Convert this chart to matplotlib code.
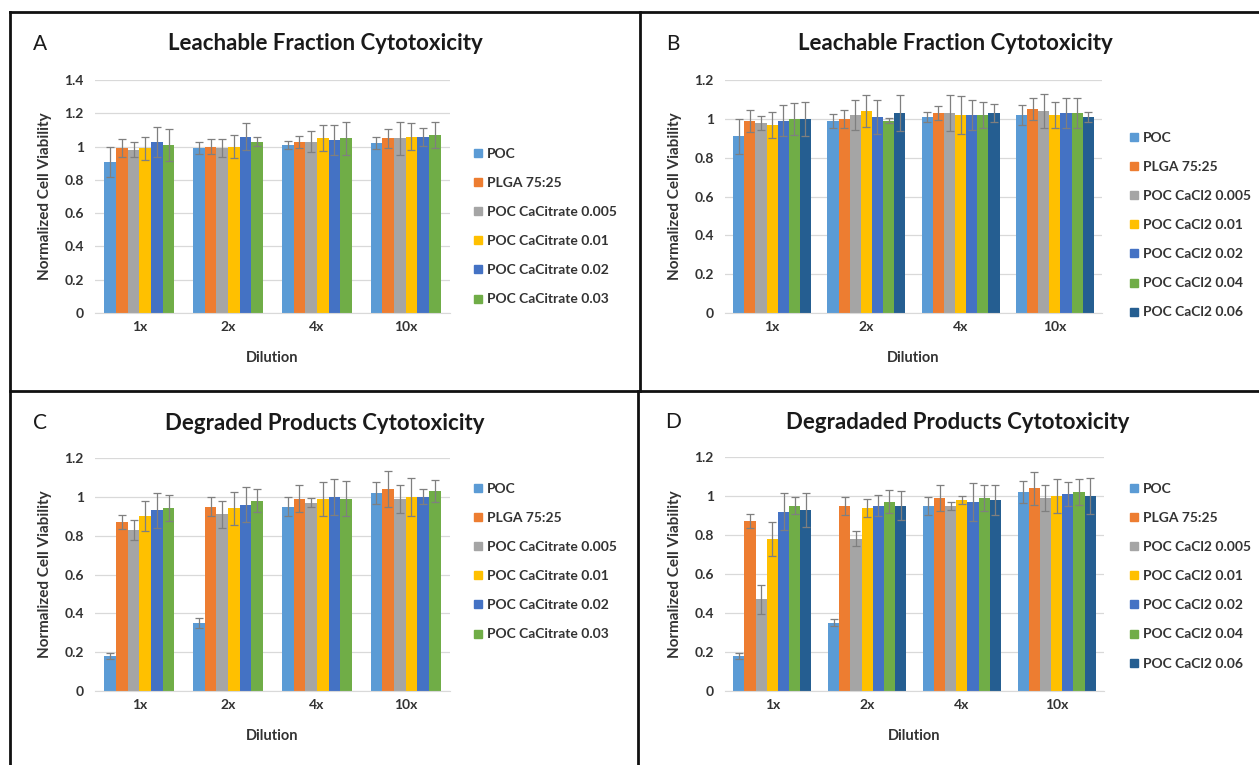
import numpy as np
import matplotlib.pyplot as plt
from matplotlib.lines import Line2D
from matplotlib.ticker import FuncFormatter

plt.rcParams['font.family'] = ['Lato', 'DejaVu Sans']

W, H = 1259, 765

dilutions = ['1x', '2x', '4x', '10x']

# colores tipo Office
colors6 = ['#5B9BD5', '#ED7D31', '#A5A5A5', '#FFC000', '#4472C4', '#70AD47']
colors7 = colors6 + ['#255E91']

labels_citrate = ['POC', 'PLGA 75:25', 'POC CaCitrate 0.005', 'POC CaCitrate 0.01',
                  'POC CaCitrate 0.02', 'POC CaCitrate 0.03']
labels_cacl2 = ['POC', 'PLGA 75:25', 'POC CaCl2 0.005', 'POC CaCl2 0.01',
                'POC CaCl2 0.02', 'POC CaCl2 0.04', 'POC CaCl2 0.06']

# A: fraccion lixiviable, CaCitrate (filas = muestra, columnas = dilucion)
leach_cit = [[0.91, 0.99, 1.01, 1.02],
             [0.99, 1.00, 1.03, 1.05],
             [0.98, 0.99, 1.03, 1.05],
             [0.99, 1.00, 1.05, 1.06],
             [1.03, 1.06, 1.04, 1.06],
             [1.01, 1.03, 1.05, 1.07]]
leach_cit_err = [[0.09, 0.035, 0.025, 0.036],
                 [0.055, 0.045, 0.036, 0.056],
                 [0.045, 0.055, 0.064, 0.098],
                 [0.07, 0.068, 0.078, 0.08],
                 [0.09, 0.08, 0.088, 0.054],
                 [0.095, 0.028, 0.098, 0.076]]

# B: fraccion lixiviable, CaCl2
leach_cl = [[0.91, 0.99, 1.01, 1.02],
            [0.99, 1.00, 1.03, 1.05],
            [0.98, 1.02, 1.03, 1.04],
            [0.97, 1.04, 1.02, 1.02],
            [0.99, 1.01, 1.02, 1.03],
            [1.00, 0.99, 1.02, 1.03],
            [1.00, 1.03, 1.03, 1.01]]
leach_cl_err = [[0.09, 0.037, 0.026, 0.05],
                [0.056, 0.048, 0.038, 0.057],
                [0.036, 0.077, 0.091, 0.086],
                [0.067, 0.082, 0.10, 0.069],
                [0.079, 0.086, 0.077, 0.077],
                [0.081, 0.014, 0.067, 0.077],
                [0.088, 0.094, 0.046, 0.026]]

# C: productos degradados, CaCitrate
degr_cit = [[0.18, 0.35, 0.95, 1.02],
            [0.87, 0.95, 0.99, 1.04],
            [0.83, 0.91, 0.97, 0.99],
            [0.90, 0.94, 0.99, 1.00],
            [0.93, 0.96, 1.00, 1.00],
            [0.94, 0.98, 0.99, 1.03]]
degr_cit_err = [[0.015, 0.024, 0.05, 0.057],
                [0.034, 0.05, 0.07, 0.091],
                [0.05, 0.068, 0.024, 0.072],
                [0.077, 0.086, 0.088, 0.099],
                [0.089, 0.089, 0.091, 0.039],
                [0.067, 0.06, 0.091, 0.056]]

# D: productos degradados, CaCl2
degr_cl = [[0.18, 0.35, 0.95, 1.02],
           [0.87, 0.95, 0.99, 1.04],
           [0.47, 0.78, 0.95, 0.99],
           [0.78, 0.94, 0.98, 1.00],
           [0.92, 0.95, 0.97, 1.01],
           [0.95, 0.97, 0.99, 1.02],
           [0.93, 0.95, 0.98, 1.00]]
degr_cl_err = [[0.015, 0.017, 0.047, 0.056],
               [0.036, 0.047, 0.068, 0.085],
               [0.075, 0.038, 0.02, 0.065],
               [0.086, 0.047, 0.019, 0.089],
               [0.095, 0.055, 0.097, 0.063],
               [0.043, 0.059, 0.068, 0.068],
               [0.087, 0.074, 0.075, 0.094]]

TXT = '#333333'


def px_axes(fig, left, right, y0, ytop):
    return fig.add_axes([left / W, (H - y0) / H, (right - left) / W, (y0 - ytop) / H])


def panel(fig, box, values, errors, labels, colors, ymax, title, letter,
          title_xy, letter_xy, leg_xy):
    ax = px_axes(fig, *box)
    n = len(values)
    group = 0.79 if n == 6 else 0.825
    w = group / n
    x = np.arange(len(dilutions))
    for i in range(n):
        pos = x - group / 2 + w * (i + 0.5)
        ax.bar(pos, values[i], w, color=colors[i], label=labels[i], zorder=2)
        ax.errorbar(pos, values[i], yerr=errors[i], fmt='none', ecolor='#7F7F7F',
                    elinewidth=0.9, capsize=2.6, capthick=0.9, zorder=3)
    ax.set_xlim(-0.5, len(dilutions) - 0.5)
    ax.set_ylim(0, ymax)
    ax.set_yticks(np.arange(0, ymax + 0.01, 0.2))
    ax.yaxis.set_major_formatter(FuncFormatter(lambda v, p: '%g' % round(v, 1)))
    ax.set_xticks(x)
    ax.set_xticklabels(dilutions)
    ax.grid(axis='y', color='#D9D9D9', linewidth=0.9, zorder=0)
    ax.set_axisbelow(True)
    for s in ['top', 'right', 'left']:
        ax.spines[s].set_visible(False)
    ax.spines['bottom'].set_color('#D9D9D9')
    ax.tick_params(length=0, labelsize=10, labelcolor=TXT)
    ax.tick_params(axis='y', pad=8)
    ax.tick_params(axis='x', pad=6)
    for t in ax.get_xticklabels() + ax.get_yticklabels():
        t.set_fontweight('bold')
    ax.set_ylabel('Normalized Cell Viability', fontsize=11, fontweight='bold', color=TXT)
    ax.set_xlabel('Dilution', fontsize=10.5, fontweight='bold', color=TXT)
    hgt = box[2] - box[3]
    ax.yaxis.set_label_coords(-43 / (box[1] - box[0]), 0.5)
    ax.xaxis.set_label_coords(0.5, -38 / hgt)

    fig.text(title_xy[0] / W, 1 - title_xy[1] / H, title, ha='center', va='center',
             fontsize=16, fontweight='bold', color='#1a1a1a')
    fig.text(letter_xy[0] / W, 1 - letter_xy[1] / H, letter, ha='center', va='center',
             fontsize=15, color='#1a1a1a')

    handles = [Line2D([], [], marker='s', linestyle='none', markersize=6,
                      markerfacecolor=c, markeredgecolor=c) for c in colors]
    fig.legend(handles, labels, loc='upper left',
               bbox_to_anchor=(leg_xy[0] / W, 1 - leg_xy[1] / H),
               frameon=False, handlelength=0.8, handletextpad=0.3,
               labelspacing=1.23, borderpad=0, borderaxespad=0,
               prop={'size': 10, 'weight': 'bold'}, labelcolor=TXT)
    return ax


fig = plt.figure(figsize=(W / 100, H / 100), dpi=100)

panel(fig, (95, 450, 313, 80), leach_cit, leach_cit_err, labels_citrate, colors6, 1.4,
      'Leachable Fraction Cytotoxicity', 'A', (325, 44), (40, 44), (472, 148))
panel(fig, (725, 1102, 313, 80), leach_cl, leach_cl_err, labels_cacl2, colors7, 1.2,
      'Leachable Fraction Cytotoxicity', 'B', (955, 44), (673, 44), (1128, 132))
panel(fig, (95, 450, 691, 458), degr_cit, degr_cit_err, labels_citrate, colors6, 1.2,
      'Degraded Products Cytotoxicity', 'C', (325, 423), (40, 423), (472, 483))
panel(fig, (725, 1104, 691, 457), degr_cl, degr_cl_err, labels_cacl2, colors7, 1.2,
      'Degradaded Products Cytotoxicity', 'D', (958, 422), (673, 422), (1128, 483))

# marco y divisiones entre paneles
def px_line(x0, y0, x1, y1, lw=2.0):
    fig.add_artist(Line2D([x0 / W, x1 / W], [1 - y0 / H, 1 - y1 / H],
                          color='#111111', linewidth=lw))

px_line(10, 12, W, 12)
px_line(10, 12, 10, H)
px_line(640, 12, 640, 391)
px_line(638, 391, 638, H)
px_line(10, 391, W, 391)

fig.savefig('out.png', dpi=100)
